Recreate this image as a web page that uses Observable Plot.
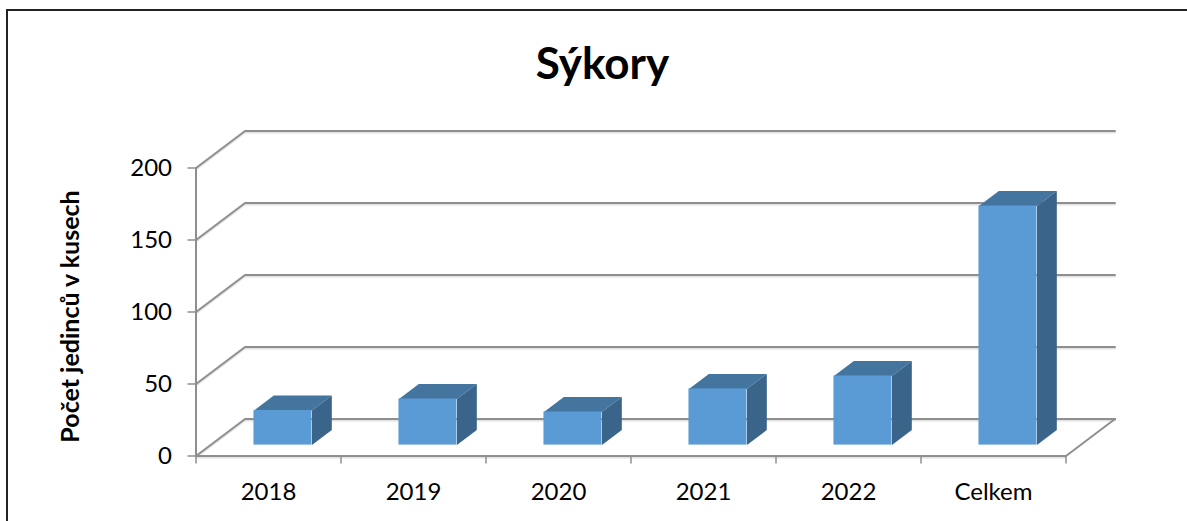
<!DOCTYPE html>
<html>
<head>
<meta charset="utf-8">
<script src="https://cdn.jsdelivr.net/npm/d3@7"></script>
<script src="https://cdn.jsdelivr.net/npm/@observablehq/plot@0.6"></script>
<style>
html,body{margin:0;padding:0;background:#fff;overflow:hidden}
#wrap{position:relative;width:1187px;height:521px;overflow:hidden}
#wrap svg{position:absolute;left:0;top:0;background:transparent}
#border{position:absolute;left:6px;top:9px;width:1200px;height:600px;border-left:2px solid #222;border-top:2px solid #222}
</style>
</head>
<body>
<div id="wrap"><div id="border"></div></div>
<script>
const titleText = "Sýkory";
const yLabel = "Počet jedinců v kusech";
const categories = ["2018", "2019", "2020", "2021", "2022", "Celkem"];
const counts = [24, 32, 23, 39, 48, 166];
const yTicks = [0, 50, 100, 150, 200];

// Oblique projection: depth expressed in scale units
const depthX = 0.338, depthY = 25.7;
const barWidth = 0.4, depthFront = 0.295, depthBack = 0.7;
const n = categories.length;
const px = (slot, d) => slot + d * depthX;
const py = (v, d) => v + d * depthY;

const gridPts = yTicks.flatMap(v => [
  {v, x: 0, y: v},
  {v, x: px(0, 1), y: py(v, 1)},
  {v, x: px(n, 1), y: py(v, 1)}
]);
const floorEdge = [{x: n, y: 0}, {x: px(n, 1), y: py(0, 1)}];
const baseLine = [{x: 0, y: 0}, {x: n, y: 0}];
const wallLine = [{x: 0, y: 0}, {x: 0, y: 200}];

const bars = categories.map((c, i) => ({c, v: counts[i], l: i + 0.5 - barWidth / 2, r: i + 0.5 + barWidth / 2}));
const poly = (b, pts) => pts.map(([s, v, d]) => ({c: b.c, x: px(s, d), y: py(v, d)}));
const tops = bars.flatMap(b => poly(b, [[b.l, b.v, depthFront], [b.r, b.v, depthFront], [b.r, b.v, depthBack], [b.l, b.v, depthBack]]));
const sides = bars.flatMap(b => poly(b, [[b.r, 0, depthFront], [b.r, b.v, depthFront], [b.r, b.v, depthBack], [b.r, 0, depthBack]]));

const axisGrey = "#8f8f8f", shadowGrey = "#e2e2e2";
const fontFamily = "Lato, Carlito, sans-serif";

const chart = Plot.plot({
  width: 1187, height: 521,
  marginLeft: 0, marginRight: 0, marginTop: 0, marginBottom: 0,
  style: {fontFamily, color: "#000", background: "transparent", overflow: "visible"},
  x: {domain: [0, n], range: [195.5, 1065.5], axis: null},
  y: {domain: [0, 200], range: [455.5, 167.5], axis: null},
  marks: [
    Plot.line(gridPts, {x: "x", y: "y", z: "v", stroke: shadowGrey, strokeWidth: 2, dy: 1.5}),
    Plot.line(gridPts, {x: "x", y: "y", z: "v", stroke: axisGrey, strokeWidth: 2}),
    Plot.line(floorEdge, {x: "x", y: "y", stroke: axisGrey, strokeWidth: 2}),
    Plot.line(baseLine, {x: "x", y: "y", stroke: shadowGrey, strokeWidth: 2, dy: 1.5}),
    Plot.line(baseLine, {x: "x", y: "y", stroke: axisGrey, strokeWidth: 2}),
    Plot.line(wallLine, {x: "x", y: "y", stroke: axisGrey, strokeWidth: 2}),
    Plot.axisY({ticks: yTicks, anchor: "left", x: 0, tickSize: 8, tickPadding: 16, stroke: axisGrey, strokeWidth: 1.5, fontSize: 24, label: null, color: "#000"}),
    Plot.axisX({ticks: d3.range(n + 1), anchor: "bottom", y: 0, tickSize: 8, stroke: axisGrey, strokeWidth: 1.5, tickFormat: () => "", label: null}),
    Plot.text(categories, {x: (d, i) => i + 0.5, y: 0, text: d => d, dy: 36, fontSize: 24, fill: "#000"}),
    Plot.line(tops, {x: "x", y: "y", z: "c", fill: "#44759f", stroke: "none"}),
    Plot.line(sides, {x: "x", y: "y", z: "c", fill: "#3a6489", stroke: "none"}),
    Plot.rect(bars, {x1: d => px(d.l, depthFront), x2: d => px(d.r, depthFront), y1: () => py(0, depthFront), y2: d => py(d.v, depthFront), fill: "#5b9bd5"}),
    Plot.text([yLabel], {x: 0, y: 100, text: d => d, rotate: -90, dx: -125, dy: 4.5, fontSize: 25, fontWeight: 700, fill: "#000"}),
    Plot.text([titleText], {frameAnchor: "top", text: d => d, dx: 8.5, dy: 47, fontSize: 44, fontWeight: 700, fill: "#000"})
  ]
});
document.getElementById("wrap").appendChild(chart);
</script>
</body>
</html>
